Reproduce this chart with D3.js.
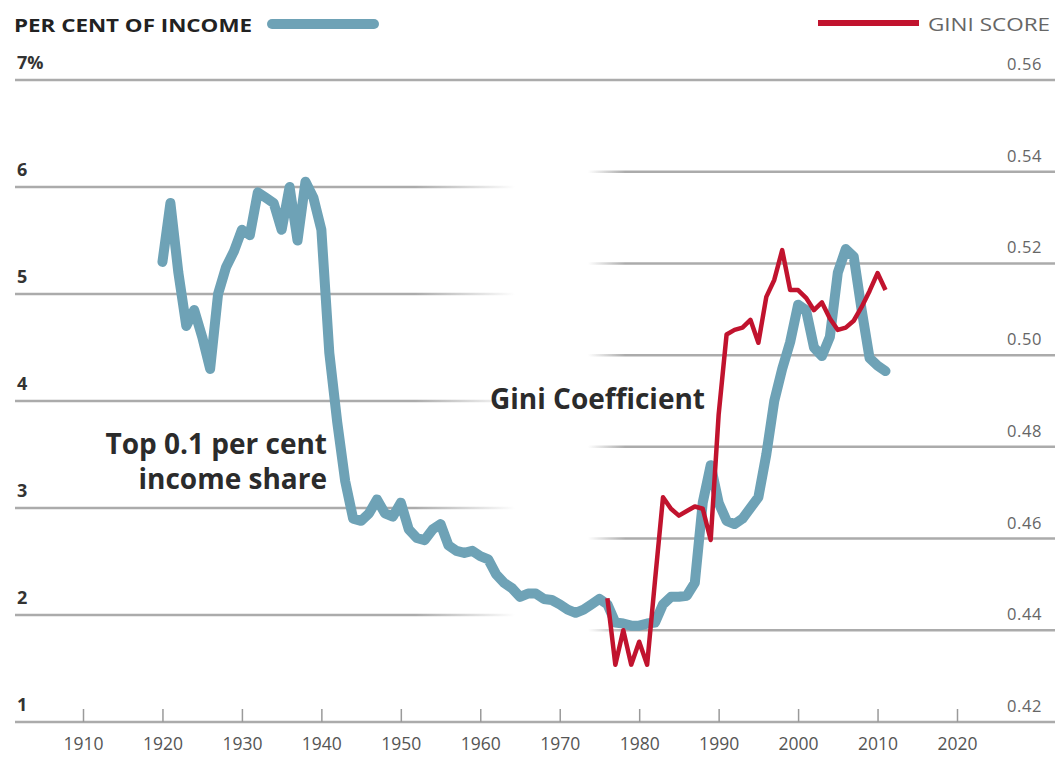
<!DOCTYPE html>
<html>
<head>
<meta charset="utf-8">
<script src="https://cdn.jsdelivr.net/npm/d3@7/dist/d3.min.js"></script>
<style>
  html, body { margin: 0; padding: 0; background: #fff; }
  svg { display: block; }
</style>
</head>
<body>
<svg id="chart" width="1055" height="757"></svg>
<script>
// ---------- DATA ----------
const shareYears = [1920,1921,1922,1923,1924,1925,1926,1927,1928,1929,
  1930,1931,1932,1933,1934,1935,1936,1937,1938,1939,
  1940,1941,1942,1943,1944,1945,1946,1947,1948,1949,
  1950,1951,1952,1953,1954,1955,1956,1957,1958,1959,
  1960,1961,1962,1963,1964,1965,1966,1967,1968,1969,
  1970,1971,1972,1973,1974,1975,1976,1977,1978,1979,
  1980,1981,1982,1983,1984,1985,1986,1987,1988,1989,
  1990,1991,1992,1993,1994,1995,1996,1997,1998,1999,
  2000,2001,2002,2003,2004,2005,2006,2007,2008,2009,
  2010,2011];
const shareValues = [5.3,5.85,5.2,4.7,4.85,4.6,4.3,5.0,5.25,5.4,
  5.6,5.55,5.95,5.9,5.85,5.6,6.0,5.5,6.05,5.9,
  5.6,4.45,3.8,3.25,2.9,2.88,2.95,3.08,2.95,2.92,
  3.05,2.8,2.72,2.7,2.8,2.85,2.65,2.6,2.58,2.6,
  2.55,2.52,2.38,2.3,2.25,2.17,2.2,2.2,2.15,2.14,
  2.1,2.05,2.02,2.05,2.1,2.15,2.1,1.93,1.92,1.9,
  1.9,1.92,1.93,2.1,2.17,2.17,2.18,2.3,3.05,3.4,
  3.05,2.88,2.85,2.9,3.0,3.1,3.5,4.0,4.3,4.55,
  4.9,4.85,4.5,4.42,4.6,5.2,5.42,5.35,4.85,4.4,
  4.33,4.28];

const giniYears = [1976,1977,1978,1979,1980,1981,1982,1983,1984,1985,
  1986,1987,1988,1989,1990,1991,1992,1993,1994,1995,
  1996,1997,1998,1999,2000,2001,2002,2003,2004,2005,
  2006,2007,2008,2009,2010,2011];
const giniValues = [0.447,0.4325,0.440,0.4325,0.4375,0.4325,0.451,0.469,0.4665,0.465,
  0.466,0.467,0.4665,0.4597,0.487,0.5045,0.5055,0.506,0.5077,0.5027,
  0.5127,0.5164,0.5229,0.5142,0.5142,0.5125,0.5098,0.5115,0.508,0.5055,
  0.506,0.5075,0.5105,0.514,0.5179,0.5142];

const yearTicks = [1910,1920,1930,1940,1950,1960,1970,1980,1990,2000,2010,2020];
const leftTicks = [1,2,3,4,5,6,7];
const leftTickLabels = ["1","2","3","4","5","6","7%"];
const rightTicks = [0.42,0.44,0.46,0.48,0.50,0.52,0.54,0.56];
const rightTickLabels = ["0.42","0.44","0.46","0.48","0.50","0.52","0.54","0.56"];

const leftTitle = "PER CENT OF INCOME";
const rightTitle = "GINI SCORE";
const shareLabel = ["Top 0.1 per cent", "income share"];
const giniLabel = "Gini Coefficient";

// ---------- LAYOUT ----------
const svg = d3.select("#chart");
const W = 1055;
const blue = "#6ea2b6";
const red = "#c1132e";
const gridCol = "#ababab";
const font = "'Open Sans', 'Noto Sans', sans-serif";

const x = d3.scaleLinear().domain([1910, 2020]).range([83, 957]);
const yL = d3.scaleLinear().domain([1, 7]).range([722, 80]);
const yR = d3.scaleLinear().domain([0.42, 0.56]).range([722, 80]);

// gradients for fading gridlines
const defs = svg.append("defs");
const gl = defs.append("linearGradient").attr("id", "fadeL")
  .attr("gradientUnits", "userSpaceOnUse").attr("x1", 15).attr("x2", 515).attr("y1", 0).attr("y2", 0);
gl.append("stop").attr("offset", "0.8").attr("stop-color", gridCol).attr("stop-opacity", 1);
gl.append("stop").attr("offset", "1").attr("stop-color", gridCol).attr("stop-opacity", 0);
const gr = defs.append("linearGradient").attr("id", "fadeR")
  .attr("gradientUnits", "userSpaceOnUse").attr("x1", 588).attr("x2", 1055).attr("y1", 0).attr("y2", 0);
gr.append("stop").attr("offset", "0").attr("stop-color", gridCol).attr("stop-opacity", 0);
gr.append("stop").attr("offset", "0.08").attr("stop-color", gridCol).attr("stop-opacity", 1);

// gridlines
const gridG = svg.append("g");
leftTicks.forEach(t => {
  const full = (t === 1 || t === 7);
  gridG.append("line")
    .attr("x1", 15).attr("x2", full ? W : 515)
    .attr("y1", yL(t)).attr("y2", yL(t))
    .attr("stroke", full ? gridCol : "url(#fadeL)")
    .attr("stroke-width", 2.5);
});
rightTicks.filter(t => t > 0.43 && t < 0.55).forEach(t => {
  gridG.append("line")
    .attr("x1", 588).attr("x2", W)
    .attr("y1", yR(t)).attr("y2", yR(t))
    .attr("stroke", "url(#fadeR)")
    .attr("stroke-width", 2.5);
});

// left labels
svg.append("g").selectAll("text").data(leftTicks).join("text")
  .attr("x", 17).attr("y", d => yL(d) - 11)
  .attr("font-family", font).attr("font-size", 18).attr("font-weight", 700)
  .attr("fill", "#333")
  .text((d, i) => leftTickLabels[i]);

// right labels
svg.append("g").selectAll("text").data(rightTicks).join("text")
  .attr("x", 1042).attr("y", d => yR(d) - 10)
  .attr("text-anchor", "end")
  .attr("font-family", font).attr("font-size", 16.5)
  .attr("letter-spacing", "0.6")
  .attr("fill", "#666")
  .text((d, i) => rightTickLabels[i]);

// x axis
const xAxis = d3.axisBottom(x).tickValues(yearTicks).tickFormat(d3.format("d"))
  .tickSize(-13).tickPadding(16);
const xg = svg.append("g").attr("transform", "translate(0,722)").call(xAxis);
xg.select(".domain").remove();
xg.selectAll(".tick line").attr("stroke", "#9a9a9a").attr("stroke-width", 1.5);
xg.selectAll(".tick text").attr("font-family", font).attr("font-size", 17.5)
  .attr("fill", "#555");

// lines
const lineShare = d3.line().x((d, i) => x(shareYears[i])).y(d => yL(d)).curve(d3.curveLinear);
const lineGini = d3.line().x((d, i) => x(giniYears[i])).y(d => yR(d)).curve(d3.curveLinear);

svg.append("path").datum(shareValues)
  .attr("d", lineShare).attr("fill", "none")
  .attr("stroke", blue).attr("stroke-width", 10)
  .attr("stroke-linejoin", "round").attr("stroke-linecap", "round");

svg.append("path").datum(giniValues)
  .attr("d", lineGini).attr("fill", "none")
  .attr("stroke", red).attr("stroke-width", 4.5)
  .attr("stroke-linejoin", "round").attr("stroke-linecap", "butt");

// legend / titles
svg.append("text").attr("x", 14).attr("y", 32)
  .attr("font-family", font).attr("font-size", 17.5).attr("font-weight", 700)
  .attr("fill", "#222")
  .attr("textLength", 238).attr("lengthAdjust", "spacingAndGlyphs")
  .text(leftTitle);
svg.append("line").attr("x1", 272).attr("x2", 374).attr("y1", 24).attr("y2", 24)
  .attr("stroke", blue).attr("stroke-width", 10).attr("stroke-linecap", "round");

svg.append("line").attr("x1", 818).attr("x2", 919).attr("y1", 23).attr("y2", 23)
  .attr("stroke", red).attr("stroke-width", 6);
svg.append("text").attr("x", 928).attr("y", 31)
  .attr("font-family", font).attr("font-size", 17.5)
  .attr("fill", "#666")
  .attr("textLength", 122).attr("lengthAdjust", "spacingAndGlyphs")
  .text(rightTitle);

// annotations
const ann = svg.append("g").attr("font-family", font).attr("font-weight", 700)
  .attr("font-size", 28).attr("fill", "#2b2b2b");
ann.append("text").attr("x", 327).attr("y", 454).attr("text-anchor", "end").text(shareLabel[0]);
ann.append("text").attr("x", 327).attr("y", 489).attr("text-anchor", "end").text(shareLabel[1]);
ann.append("text").attr("x", 490).attr("y", 409).text(giniLabel);
</script>
</body>
</html>
